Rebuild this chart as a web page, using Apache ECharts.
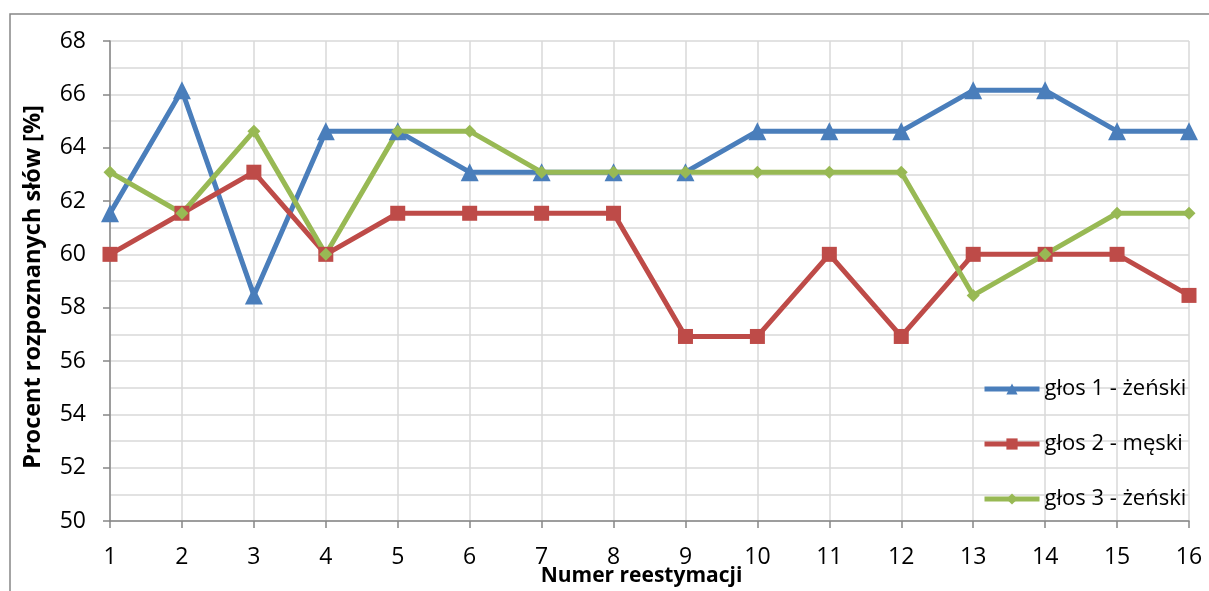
<!DOCTYPE html>
<html>
<head>
<meta charset="utf-8">
<style>
  html, body { margin: 0; padding: 0; background: #fff; }
  #chart { width: 1209px; height: 591px; }
</style>
<script src="https://cdn.jsdelivr.net/npm/echarts@6/dist/echarts.min.js"></script>
</head>
<body>
<div id="chart"></div>
<script>
// Reestimation runs and percentage of recognised words per voice
const categories = ['1','2','3','4','5','6','7','8','9','10','11','12','13','14','15','16'];
const glos1 = [61.54, 66.15, 58.46, 64.62, 64.62, 63.08, 63.08, 63.08, 63.08, 64.62, 64.62, 64.62, 66.15, 66.15, 64.62, 64.62];
const glos2 = [60.00, 61.54, 63.08, 60.00, 61.54, 61.54, 61.54, 61.54, 56.92, 56.92, 60.00, 56.92, 60.00, 60.00, 60.00, 58.46];
const glos3 = [63.08, 61.54, 64.62, 60.00, 64.62, 64.62, 63.08, 63.08, 63.08, 63.08, 63.08, 63.08, 58.46, 60.00, 61.54, 61.54];
const seriesNames = ['głos 1 - żeński', 'głos 2 - męski', 'głos 3 - żeński'];

const FONT = '"Open Sans", Lato, sans-serif';
const chart = echarts.init(document.getElementById('chart'), null, { renderer: 'canvas' });

function lineSeries(name, data, color, symbol, size) {
  return {
    name, type: 'line', data,
    symbol, symbolSize: size,
    lineStyle: { color, width: 5 },
    itemStyle: { color },
    emphasis: { disabled: true },
    z: 3
  };
}

chart.setOption({
  animation: false,
  backgroundColor: '#fff',
  graphic: [{
    type: 'rect',
    shape: { x: 10, y: 14, width: 1250, height: 700 },
    style: { fill: 'none', stroke: '#868686', lineWidth: 1.5 },
    silent: true, z: -1
  }],
  grid: { left: 110, right: 20, top: 41, bottom: 70, outerBoundsMode: 'none', containLabel: false },
  legend: {
    orient: 'vertical',
    left: 977, top: 373,
    itemWidth: 55, itemHeight: 14,
    itemGap: 33,
    lineStyle: { width: 5 },
    textStyle: { fontFamily: FONT, fontSize: 22, lineHeight: 22, color: '#000' },
    data: seriesNames
  },
  xAxis: {
    type: 'category',
    data: categories,
    boundaryGap: false,
    name: 'Numer reestymacji',
    nameLocation: 'middle',
    nameMoveOverlap: false,
    nameGap: 45,
    nameTextStyle: { fontFamily: FONT, fontSize: 21, fontWeight: 'bold', color: '#000', padding: [0, 16, 0, 0] },
    axisLine: { lineStyle: { color: '#868686', width: 1.5 } },
    axisTick: { show: true, alignWithLabel: true, length: 7, lineStyle: { color: '#868686', width: 1.5 } },
    axisLabel: { fontFamily: FONT, fontSize: 23, color: '#000', margin: 25 },
    splitLine: { show: true, lineStyle: { color: '#d9d9d9', width: 1.5 } }
  },
  yAxis: {
    type: 'value',
    min: 50, max: 68, interval: 2,
    name: 'Procent rozpoznanych słów [%]',
    nameLocation: 'middle',
    nameMoveOverlap: false,
    nameRotate: 90,
    nameGap: 65,
    nameTextStyle: { fontFamily: FONT, fontSize: 23.5, fontWeight: 'bold', color: '#000', padding: [0, 12, 0, 0] },
    axisLine: { show: true, lineStyle: { color: '#868686', width: 1.5 } },
    axisTick: { show: true, length: 7, lineStyle: { color: '#868686', width: 1.5 } },
    axisLabel: { fontFamily: FONT, fontSize: 23, color: '#000', margin: 24 },
    splitLine: { show: true, lineStyle: { color: '#d9d9d9', width: 1.5 } },
    minorTick: { show: false, splitNumber: 2 },
    minorSplitLine: { show: true, lineStyle: { color: '#d9d9d9', width: 1.5 } }
  },
  series: [
    lineSeries(seriesNames[0], glos1, '#4A7EBB', 'triangle', 18),
    lineSeries(seriesNames[1], glos2, '#BE4B48', 'rect', 15),
    lineSeries(seriesNames[2], glos3, '#98B954', 'diamond', 13)
  ]
});
</script>
</body>
</html>
